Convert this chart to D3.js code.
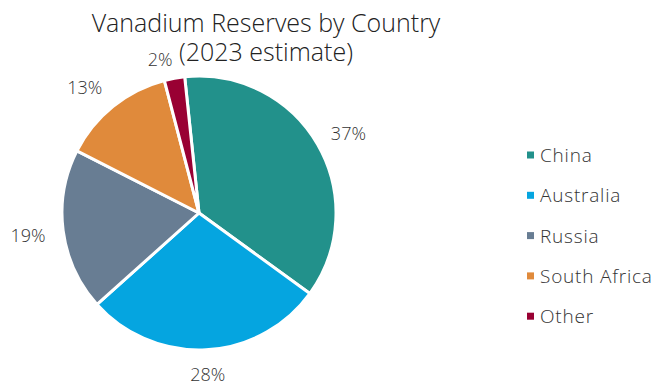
<!DOCTYPE html>
<html>
<head>
<meta charset="utf-8">
<script src="https://cdn.jsdelivr.net/npm/d3@7"></script>
<style>
  body { margin: 0; background: #fff; }
  text { font-family: "Open Sans", Lato, sans-serif; font-weight: 300; fill: #333; }
</style>
</head>
<body>
<div id="chart"></div>
<script>
// data (share of reserves, %)
const countries = ["China", "Australia", "Russia", "South Africa", "Other"];
const shares = [36.6, 28.3, 19.1, 13.4, 2.4];
const colours = ["#22918b", "#05a5e0", "#687d93", "#e08a3b", "#990033"];
const titleLines = ["Vanadium Reserves by Country", "(2023 estimate)"];

const width = 657;
const height = 387;
const cx = 199;
const cy = 213;
const radius = 137;
const startOffset = -6 * Math.PI / 180; // first slice starts a bit left of 12 o'clock

const svg = d3.select("#chart")
  .append("svg")
  .attr("width", width)
  .attr("height", height);

// title, two centred lines
svg.append("g")
  .selectAll("text")
  .data(titleLines)
  .enter()
  .append("text")
  .attr("x", 266)
  .attr("y", (d, i) => 32 + i * 29)
  .attr("text-anchor", "middle")
  .style("font-size", "25px")
  .style("fill", "#222")
  .text(d => d);

const total = d3.sum(shares);
const pie = d3.pie()
  .sort(null)
  .startAngle(startOffset)
  .endAngle(startOffset + 2 * Math.PI);

const arcs = pie(shares).map((a, i) => ({ ...a, name: countries[i], colour: colours[i] }));

const arc = d3.arc().innerRadius(0).outerRadius(radius);

const g = svg.append("g").attr("transform", `translate(${cx},${cy})`);

g.selectAll("path")
  .data(arcs)
  .enter()
  .append("path")
  .attr("d", arc)
  .attr("fill", d => d.colour)
  .attr("stroke", "#fff")
  .attr("stroke-width", 3)
  .attr("stroke-linejoin", "round");

// outside-end labels: push a box out along the mid angle
const labelGap = 18;
const labelHalfW = 17.5;
const labelHalfH = 8;
g.selectAll("text.pct")
  .data(arcs)
  .enter()
  .append("text")
  .attr("class", "pct")
  .attr("text-anchor", "middle")
  .attr("dominant-baseline", "central")
  .style("font-size", "18px")
  .attr("x", d => {
    const a = (d.startAngle + d.endAngle) / 2;
    // the small slice label gets pushed left, away from the title
    if (d.name === "Other") return (radius + labelGap) * Math.sin(a) - 11;
    return (radius + labelGap) * Math.sin(a) + labelHalfW * Math.sin(a) - (d.name === "South Africa" ? 6 : 0);
  })
  .attr("y", d => {
    const a = (d.startAngle + d.endAngle) / 2;
    if (d.name === "Other") return -(radius + labelGap) * Math.cos(a) - 2;
    return -(radius + labelGap) * Math.cos(a) - labelHalfH * Math.cos(a) + (d.name === "Australia" ? -2 : 1);
  })
  .text(d => Math.round(d.value / total * 100) + "%");

// legend
const legend = svg.append("g").attr("transform", "translate(527,155)");
const item = legend.selectAll("g")
  .data(arcs)
  .enter()
  .append("g")
  .attr("transform", (d, i) => `translate(0,${i * 40.3})`);

item.append("rect")
  .attr("x", 0)
  .attr("y", -3.5)
  .attr("width", 7)
  .attr("height", 7)
  .attr("fill", d => d.colour);

item.append("text")
  .attr("x", 13)
  .attr("y", 0)
  .attr("dominant-baseline", "central")
  .style("font-size", "19px")
  .style("letter-spacing", "0.8px")
  .text(d => d.name);
</script>
</body>
</html>
